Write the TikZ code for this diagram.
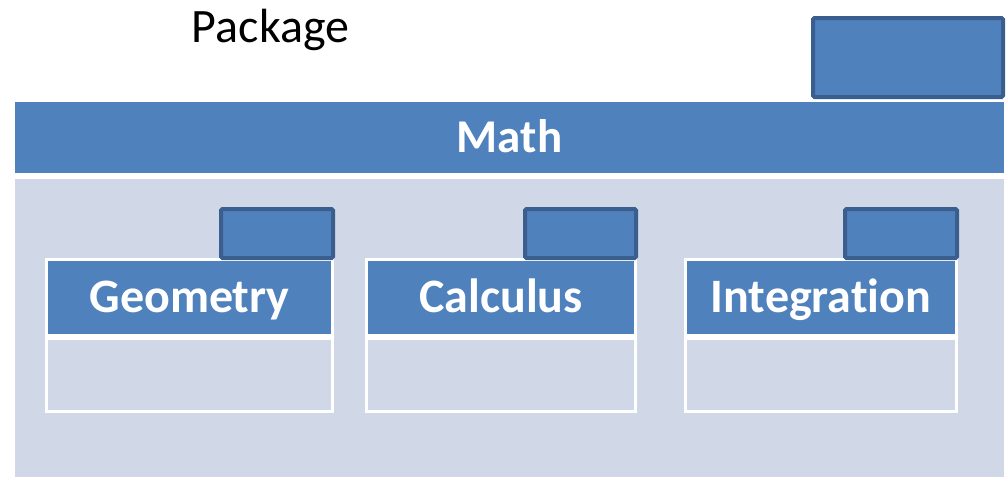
\documentclass[tikz,border=0pt]{standalone}
\usepackage{fontspec}
\setmainfont{Carlito}[Ligatures=NoCommon]
\definecolor{mblue}{HTML}{4F81BD}
\definecolor{dblue}{HTML}{3A5F8E}
\definecolor{lblue}{HTML}{D0D8E8}
\tikzset{
  box/.style={rectangle, inner sep=0pt, outer sep=0pt},
  bigfont/.style={font=\fontsize{48}{52}\selectfont, text height=30.9pt, text depth=0pt},
  pkgtab/.style={box, fill=mblue, draw=dblue, line width=4pt, rounded corners=1.5pt},
  titlebar/.style={box, fill=mblue, text=white, bigfont, font=\fontsize{47}{52}\selectfont\bfseries},
  area/.style={box, fill=lblue},
  header/.style={box, fill=mblue, draw=white, line width=3pt, text=white, bigfont, font=\fontsize{48}{52}\selectfont\bfseries},
  body/.style={box, fill=lblue, draw=white, line width=3pt},
}
\begin{document}
\begin{tikzpicture}[x=1pt,y=-1pt]
\useasboundingbox (0,0) rectangle (1007,477);
\node[box, bigfont] (pkg) at (270.5,27.5) {Package};
\node[titlebar, minimum width=989pt, minimum height=71pt] (math) at (509.5,137) {Math};
\node[pkgtab, minimum width=190pt, minimum height=79pt] (mtab) at (908,57.5) {};
\node[area, minimum width=989pt, minimum height=298pt] (area) at (509.5,328) {};
% Geometry
\node[header, minimum width=286pt, minimum height=76pt] (geoh) at (189.5,297) {Geometry};
\node[body, minimum width=286pt, minimum height=73pt] (geob) at (189.5,375) {};
\node[pkgtab, minimum width=112pt, minimum height=49pt] (geot) at (277,233.5) {};
% Calculus
\node[header, minimum width=269pt, minimum height=76pt] (calh) at (501,297) {Calculus};
\node[body, minimum width=269pt, minimum height=73pt] (calb) at (501,375) {};
\node[pkgtab, minimum width=111pt, minimum height=49pt] (calt) at (580.5,233.5) {};
% Integration
\node[header, minimum width=271pt, minimum height=76pt] (inth) at (821,297) {Integration};
\node[body, minimum width=271pt, minimum height=73pt] (intb) at (821,375) {};
\node[pkgtab, minimum width=112pt, minimum height=49pt] (intt) at (901,233.5) {};
\end{tikzpicture}
\end{document}
